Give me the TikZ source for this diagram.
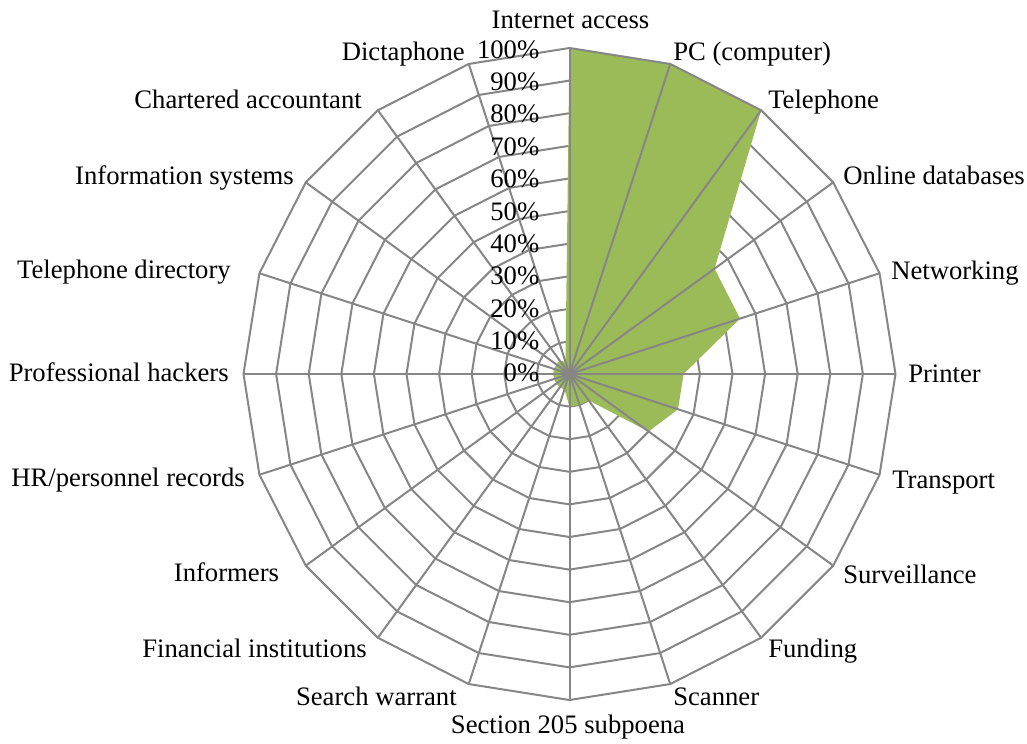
\documentclass[tikz,border=0pt]{standalone}
\usepackage{fontspec}
\setmainfont{Liberation Serif}
\definecolor{gridgray}{HTML}{868686}
\definecolor{seriesgreen}{HTML}{9BBB59}
\begin{document}
\begin{tikzpicture}[x=0.75pt,y=0.75pt,
  gridline/.style={draw=gridgray,line width=1.5pt,line join=round},
  lbl/.style={inner sep=0pt,font=\fontsize{20}{24}\selectfont},
  pct/.style={inner sep=0pt,anchor=base east,font=\fontsize{20}{24}\selectfont},
]
\useasboundingbox (-569.5,-369) rectangle (457.5,374);
\coordinate (O) at (0,0);
\foreach \i in {0,...,19} { \coordinate (v\i) at ({90-18*\i}:326); }
% inner rings
\foreach \k in {1,...,9} {
  \pgfmathsetmacro{\rr}{\k*32.6}
  \draw[gridline] (90:\rr) \foreach \i in {1,...,19} { -- ({90-18*\i}:\rr) } -- cycle;
}
% data series
\fill[seriesgreen] (90:326) \foreach \v [count=\i] in {100,100,55,55,35,35,30,10,10,10,5,5,5,5,5,5,5,5,4} { -- ({90-18*\i}:{\v*3.26}) } -- cycle;
% spokes
\foreach \i in {0,...,19} { \draw[gridline] (O) -- (v\i); }
% outer ring
\draw[gridline] (v0) \foreach \i in {1,...,19} { -- (v\i) } -- cycle;
% percent labels
\foreach \k in {0,...,10} {
  \pgfmathtruncatemacro{\p}{10*\k}
  \node[pct] (p\k) at (-30,{-7.7+32.34*\k}) {\p\%};
}
% category labels
\node[lbl,anchor=base] (l0) at (1,345.7) {Internet access};
\node[lbl,anchor=base west] (l1) at (103.5,313) {PC (computer)};
\node[lbl,anchor=base west] (l2) at (198.5,265) {Telephone};
\node[lbl,anchor=base west] (l3) at (273.5,190) {Online databases};
\node[lbl,anchor=base west] (l4) at (321.5,95) {Networking};
\node[lbl,anchor=base west] (l5) at (338.5,-8.3) {Printer};
\node[lbl,anchor=base west] (l6) at (322.5,-114) {Transport};
\node[lbl,anchor=base west] (l7) at (273.5,-209) {Surveillance};
\node[lbl,anchor=base west] (l8) at (198.5,-283) {Funding};
\node[lbl,anchor=base west] (l9) at (103.5,-331) {Scanner};
\node[lbl,anchor=base] (l10) at (-1.5,-359) {Section 205 subpoena};
\node[lbl,anchor=base east] (l11) at (-112.5,-331) {Search warrant};
\node[lbl,anchor=base east] (l12) at (-202.5,-283) {Financial institutions};
\node[lbl,anchor=base east] (l13) at (-290.2,-207.7) {Informers};
\node[lbl,anchor=base east] (l14) at (-324.5,-112.7) {HR/personnel records};
\node[lbl,anchor=base east] (l15) at (-340.5,-7.7) {Professional hackers};
\node[lbl,anchor=base east] (l16) at (-338.5,96) {Telephone directory};
\node[lbl,anchor=base east] (l17) at (-275.5,190) {Information systems};
\node[lbl,anchor=base east] (l18) at (-207.5,265) {Chartered accountant};
\node[lbl,anchor=base east] (l19) at (-104.5,313) {Dictaphone};
\end{tikzpicture}
\end{document}
